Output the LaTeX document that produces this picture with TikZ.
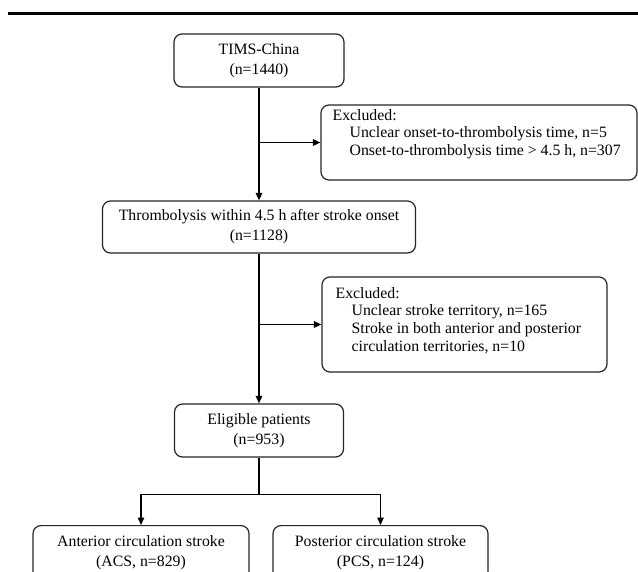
\documentclass[tikz,border=0pt]{standalone}
\usepackage{fontspec}
\setmainfont{Liberation Serif}
\usetikzlibrary{arrows.meta}
\begin{document}
\begin{tikzpicture}[x=1pt,y=-1pt,
  box/.style={draw=black!85, line width=1.2pt, rounded corners=8pt, align=center,
    inner sep=0pt, font=\fontsize{15.8}{19.8}\selectfont},
  extext/.style={align=left, inner sep=0pt, anchor=north west,
    font=\fontsize{15.8}{17.9}\selectfont},
  arr/.style={line width=1.5pt, -{Triangle[length=7.5pt,width=6.5pt]}},
  conn/.style={line width=1.5pt}]
\fill[white] (0,0) rectangle (638,571);
\clip (0,0) rectangle (638,571);
\draw[line width=3pt] (8,13) -- (640,13);

\node[box, minimum width=170pt, minimum height=53pt] (tims) at (259,60.5) {TIMS-China\\(n=1440)};
\node[box, minimum width=313pt, minimum height=52pt] (thr) at (259,227) {Thrombolysis within 4.5 h after stroke onset\\(n=1128)};
\node[box, minimum width=169pt, minimum height=53pt] (elig) at (259,430.5) {Eligible patients\\(n=953)};
\node[box, minimum width=216pt, minimum height=54pt, anchor=north] (acs) at (141,525) {Anterior circulation stroke\\(ACS, n=829)};
\node[box, minimum width=215pt, minimum height=54pt, anchor=north] (pcs) at (380.5,525) {Posterior circulation stroke\\(PCS, n=124)};

\node[box, minimum width=316pt, minimum height=75pt] (ex1) at (479,142.5) {};
\node[box, minimum width=285pt, minimum height=95pt] (ex2) at (464.5,324.5) {};
\node[extext] (ex1t) at ([xshift=12pt,yshift=-4.5pt]ex1.north west)
  {Excluded:\\\hspace*{17pt}Unclear onset-to-thrombolysis time, n=5\\\hspace*{17pt}Onset-to-thrombolysis time > 4.5 h, n=307};
\node[extext] (ex2t) at ([xshift=14pt,yshift=-10.5pt]ex2.north west)
  {Excluded:\\\hspace*{16pt}Unclear stroke territory, n=165\\\hspace*{16pt}Stroke in both anterior and posterior\\\hspace*{16pt}circulation territories, n=10};

\draw[arr] (tims.south) -- (thr.north);
\draw[arr] (tims.south |- ex1.west) -- (ex1.west);
\draw[arr] (thr.south) -- (elig.north);
\draw[arr] (thr.south |- ex2.west) -- (ex2.west);
\coordinate (split) at ([yshift=-37pt]elig.south);
\draw[conn] (elig.south) -- (split);
\draw[arr] (split) -| (acs.north);
\draw[arr] (split) -| (pcs.north);
\end{tikzpicture}
\end{document}
